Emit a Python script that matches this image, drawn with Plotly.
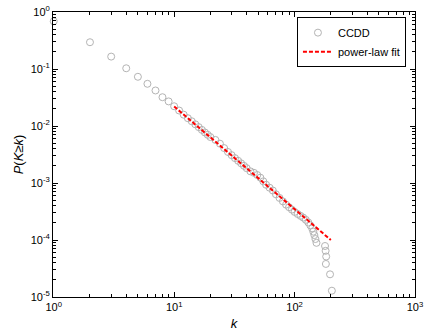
import plotly.graph_objects as go

k_data = [1, 2, 3, 4, 5, 6, 7, 8, 9,
          10, 11, 12, 13, 14, 15, 16, 17, 18, 19, 20, 22, 24, 26, 28, 30, 32, 34, 36, 38, 40,
          43, 46, 49, 52, 55, 58, 62, 66, 70, 75, 80, 85, 90, 95, 100, 106, 112, 118, 124, 130,
          135, 140, 143, 146, 149, 152, 179, 181, 183, 182, 197, 204]
p_data = [0.687, 0.295, 0.165, 0.103, 0.073, 0.055, 0.042, 0.032, 0.027,
          0.0222, 0.0187, 0.0158, 0.0137, 0.0121, 0.0107, 0.00955, 0.00855, 0.0077, 0.0070, 0.0064,
          0.0057, 0.0049, 0.0041, 0.00350, 0.00308, 0.00273, 0.00245, 0.00221, 0.00200, 0.00182,
          0.00160, 0.00151, 0.00138, 0.00124, 0.00107, 0.000931, 0.000826, 0.000738, 0.000634,
          0.000547, 0.000476, 0.000417, 0.000376, 0.000341, 0.000311, 0.000286, 0.000265,
          0.000247, 0.000226, 0.000203, 0.000181, 0.000160, 0.000140, 0.000122, 0.000104,
          0.0000892, 0.0000785, 0.0000646, 0.0000513, 0.000038, 0.000025, 0.0000129]

k_fit = [10, 200]
p_fit = [0.022, 0.0001]

x_tickvals = [1, 10, 100, 1000]
x_ticktext = ["10<sup>0</sup>", "10<sup>1</sup>", "10<sup>2</sup>", "10<sup>3</sup>"]
y_tickvals = [1e-5, 1e-4, 1e-3, 1e-2, 1e-1, 1]
y_ticktext = ["10<sup>-5</sup>", "10<sup>-4</sup>", "10<sup>-3</sup>", "10<sup>-2</sup>", "10<sup>-1</sup>", "10<sup>0</sup>"]

x_minor = [m * 10 ** e for e in range(0, 3) for m in range(2, 10)]
y_minor = [m * 10.0 ** e for e in range(-5, 0) for m in range(2, 10)]

fig = go.Figure()
fig.add_trace(go.Scatter(
    x=k_data, y=p_data, mode="markers", name="CCDD", cliponaxis=False,
    marker=dict(symbol="circle-open", size=7, color="#b4b4b4", line=dict(width=1, color="#b4b4b4")),
))
fig.add_trace(go.Scatter(
    x=k_fit, y=p_fit, mode="lines", name="power-law fit",
    line=dict(color="#ff0000", width=2, dash="4px,2px"),
))

axis_common = dict(
    showgrid=False, zeroline=False, showline=True, linecolor="black", linewidth=1,
    mirror="ticks", ticks="inside", ticklen=5, tickcolor="black", automargin=False,
    tickfont=dict(family="Liberation Sans, Arial", size=11, color="black"),
)

fig.update_layout(
    width=427, height=335,
    margin=dict(l=53, r=12, t=12, b=38),
    paper_bgcolor="white", plot_bgcolor="white",
    font=dict(family="Liberation Sans, Arial", color="black"),
    xaxis=dict(type="log", range=[-0.006, 3], tickvals=x_tickvals, ticktext=x_ticktext,
               minor=dict(tickvals=x_minor, ticks="inside", ticklen=3, tickcolor="black"),
               title=dict(text="<i>k</i>", font=dict(size=13), standoff=6), **axis_common),
    yaxis=dict(type="log", range=[-5, 0], tickvals=y_tickvals, ticktext=y_ticktext,
               minor=dict(tickvals=y_minor, ticks="inside", ticklen=3, tickcolor="black"),
               title=dict(text="<i>P</i>(<i>K</i>≥<i>k</i>)", font=dict(size=13), standoff=4), **axis_common),
    legend=dict(x=0.975, y=0.982, xanchor="right", yanchor="top",
                bordercolor="black", borderwidth=1, bgcolor="white",
                font=dict(size=11, family="Liberation Sans, Arial"),
                tracegroupgap=0),
    showlegend=True,
)

fig.write_html("out.html", config={"displayModeBar": False},
               post_script="document.body.style.margin='0';document.body.style.overflow='hidden';")
